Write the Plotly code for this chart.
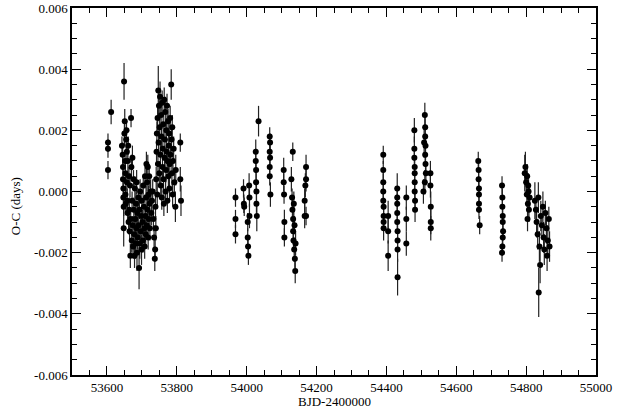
import plotly.graph_objects as go

# Season 1
bjd_1 = [53603, 53603, 53603, 53612, 53649, 53643, 53645, 53646, 53646, 53647, 53647, 53648, 53648,
         53650, 53651, 53652, 53653, 53653, 53654, 53655, 53656, 53657, 53657, 53658, 53659, 53660,
         53661, 53662, 53663, 53664, 53665, 53666, 53667, 53668, 53669, 53670, 53671, 53672, 53673,
         53674, 53675, 53676, 53677, 53678, 53679, 53680, 53681, 53682, 53683, 53684, 53685, 53686,
         53687, 53688, 53690, 53691, 53692, 53693, 53694, 53695, 53697, 53698, 53699, 53700, 53702,
         53703, 53704, 53706, 53707, 53708, 53709, 53710, 53711, 53712, 53713, 53714, 53715, 53716,
         53717, 53718, 53719, 53720, 53721, 53722, 53723, 53725, 53727, 53729, 53731, 53733, 53735,
         53737, 53738, 53739, 53740, 53741, 53742, 53743, 53744, 53745, 53746, 53747, 53748, 53749,
         53750, 53751, 53752, 53753, 53754, 53755, 53756, 53757, 53758, 53759, 53760, 53761, 53762,
         53763, 53764, 53765, 53766, 53767, 53768, 53769, 53770, 53771, 53772, 53773, 53774, 53775,
         53776, 53777, 53778, 53779, 53780, 53781, 53782, 53784, 53785, 53786, 53787, 53788, 53789,
         53791, 53793, 53796, 53797, 53810, 53810, 53812]
oc_1 = [0.0016, 0.0014, 0.0007, 0.0026, 0.0036, 0.0015, 0.0012, 0.0008, 0.0004, 0.0001, -0.0002, -0.0005, -0.0012,
        0.0019, 0.0023, 0.0010, 0.0006, -0.0001, -0.0004, 0.0017, 0.0020, 0.0013, 0.0003, -0.0003, -0.0007, 0.0010,
        0.0015, -0.0010, 0.0005, -0.0006, -0.0013, 0.0002, -0.0021, -0.0009, 0.0024, 0.0008, -0.0016, -0.0003, 0.0011,
        -0.0011, -0.0018, 0.0004, -0.0006, -0.0014, -0.0021, 0.0001, -0.0009, -0.0017, -0.0004, -0.0012, 0.0003, -0.0020,
        -0.0007, -0.0015, -0.0002, -0.0011, -0.0025, -0.0006, -0.0017, 0.0000, -0.0013, -0.0008, -0.0019, -0.0003, -0.0010,
        -0.0016, 0.0002, -0.0005, -0.0012, -0.0018, 0.0005, -0.0008, -0.0014, -0.0002, 0.0009, -0.0011, 0.0003, -0.0006,
        0.0008, -0.0015, -0.0001, -0.0009, 0.0005, -0.0004, -0.0012, 0.0000, -0.0007, -0.0003, 0.0000, -0.0009, -0.0015,
        -0.0022, -0.0019, -0.0005, -0.0012, 0.0004, 0.0013, 0.0019, -0.0001, 0.0024, 0.0009, 0.0033, 0.0016, 0.0028,
        0.0006, 0.0021, 0.0031, 0.0012, 0.0002, 0.0025, 0.0018, -0.0002, 0.0029, 0.0008, 0.0014, 0.0022, 0.0004,
        -0.0004, 0.0030, 0.0011, 0.0017, 0.0026, 0.0000, 0.0007, 0.0020, 0.0013, 0.0028, -0.0003, 0.0010, 0.0023,
        0.0005, 0.0015, 0.0019, 0.0001, 0.0009, 0.0024, 0.0012, 0.0035, 0.0017, 0.0006, 0.0021, -0.0001, 0.0010,
        0.0014, 0.0003, -0.0005, 0.0007, 0.0016, 0.0004, -0.0003]
err_1 = [0.0003, 0.0003, 0.0003, 0.0004, 0.0006, 0.0003, 0.0004, 0.0003, 0.0004, 0.0003, 0.0004, 0.0003, 0.0006,
         0.0004, 0.0004, 0.0003, 0.0004, 0.0003, 0.0003, 0.0004, 0.0003, 0.0004, 0.0003, 0.0004, 0.0003, 0.0004,
         0.0003, 0.0004, 0.0003, 0.0004, 0.0003, 0.0004, 0.0004, 0.0003, 0.0003, 0.0004, 0.0004, 0.0003, 0.0004,
         0.0003, 0.0004, 0.0003, 0.0004, 0.0005, 0.0004, 0.0004, 0.0003, 0.0005, 0.0004, 0.0004, 0.0004, 0.0006,
         0.0004, 0.0004, 0.0003, 0.0004, 0.0007, 0.0003, 0.0005, 0.0004, 0.0004, 0.0003, 0.0005, 0.0004, 0.0004,
         0.0004, 0.0003, 0.0004, 0.0004, 0.0004, 0.0004, 0.0003, 0.0004, 0.0004, 0.0004, 0.0004, 0.0003, 0.0004,
         0.0004, 0.0004, 0.0003, 0.0004, 0.0004, 0.0004, 0.0004, 0.0004, 0.0004, 0.0004, 0.0004, 0.0004, 0.0004,
         0.0004, 0.0004, 0.0004, 0.0004, 0.0004, 0.0004, 0.0004, 0.0004, 0.0004, 0.0004, 0.0008, 0.0004, 0.0005,
         0.0004, 0.0004, 0.0005, 0.0004, 0.0004, 0.0004, 0.0004, 0.0004, 0.0004, 0.0004, 0.0004, 0.0004, 0.0004,
         0.0004, 0.0004, 0.0004, 0.0004, 0.0005, 0.0004, 0.0004, 0.0004, 0.0004, 0.0004, 0.0004, 0.0004, 0.0004,
         0.0004, 0.0004, 0.0004, 0.0004, 0.0004, 0.0004, 0.0004, 0.0005, 0.0004, 0.0004, 0.0004, 0.0004, 0.0004,
         0.0004, 0.0004, 0.0005, 0.0005, 0.0003, 0.0004, 0.0005]

# Season 2
bjd_2 = [53968, 53968, 53968, 53991, 53992, 53993, 54003, 54003, 54004, 54005, 54007, 54008, 54008,
         54026, 54026, 54027, 54027, 54028, 54028, 54029, 54034, 54066, 54067, 54066, 54067, 54066,
         54066, 54068, 54106, 54106, 54107, 54108, 54108, 54128, 54130, 54131, 54132, 54133, 54133,
         54134, 54135, 54136, 54137, 54138, 54139, 54140, 54170, 54170, 54168, 54166, 54166, 54170]
oc_2 = [-0.0002, -0.0009, -0.0014, 0.0001, -0.0004, -0.0005, -0.0010, -0.0015, -0.0018, -0.0021, 0.0002, -0.0002, -0.0008,
        0.0013, 0.0010, 0.0007, 0.0003, 0.0000, -0.0004, -0.0008, 0.0023, 0.0018, 0.0016, 0.0013, 0.0011, 0.0008,
        0.0005, -0.0001, 0.0007, 0.0003, -0.0001, -0.0010, -0.0015, 0.0004, -0.0002, -0.0006, 0.0013, -0.0009, -0.0013,
        -0.0016, -0.0004, -0.0019, -0.0011, -0.0022, -0.0026, -0.0017, 0.0008, 0.0004, 0.0002, -0.0003, -0.0008, -0.0008]
err_2 = [0.0003, 0.0003, 0.0003, 0.0003, 0.0003, 0.0003, 0.0003, 0.0003, 0.0003, 0.0003, 0.0004, 0.0003, 0.0004,
         0.0004, 0.0004, 0.0003, 0.0003, 0.0004, 0.0003, 0.0005, 0.0005, 0.0003, 0.0003, 0.0003, 0.0004, 0.0004,
         0.0003, 0.0004, 0.0004, 0.0003, 0.0003, 0.0004, 0.0003, 0.0004, 0.0003, 0.0004, 0.0003, 0.0004, 0.0004,
         0.0003, 0.0004, 0.0004, 0.0003, 0.0003, 0.0004, 0.0004, 0.0004, 0.0004, 0.0004, 0.0004, 0.0004, 0.0003]

# Season 3
bjd_3 = [54391, 54391, 54391, 54391, 54391, 54392, 54392, 54392, 54392, 54405, 54405, 54405,
         54431, 54431, 54431, 54431, 54431, 54432, 54432, 54432, 54432, 54457, 54457, 54457,
         54480, 54480, 54480, 54481, 54481, 54481, 54481, 54482, 54482,
         54508, 54510, 54511, 54511, 54512, 54511, 54512, 54513, 54510, 54506,
         54526, 54526, 54527, 54527, 54527]
oc_3 = [0.0012, 0.0007, 0.0003, 0.0000, -0.0003, -0.0005, -0.0008, -0.0010, -0.0012, -0.0008, -0.0013, -0.0021,
        0.0001, -0.0002, -0.0004, -0.0007, -0.0010, -0.0013, -0.0016, -0.0019, -0.0028, -0.0002, -0.0009, -0.0017,
        0.0020, 0.0014, 0.0011, 0.0008, 0.0006, 0.0003, 0.0000, -0.0003, -0.0006,
        0.0016, 0.0025, 0.0021, 0.0018, 0.0015, 0.0012, 0.0009, 0.0006, 0.0003, 0.0000,
        0.0006, 0.0002, -0.0005, -0.0010, -0.0012]
err_3 = [0.0003, 0.0003, 0.0003, 0.0003, 0.0003, 0.0003, 0.0003, 0.0003, 0.0004, 0.0005, 0.0004, 0.0005,
         0.0005, 0.0003, 0.0003, 0.0003, 0.0003, 0.0003, 0.0004, 0.0004, 0.0006, 0.0004, 0.0004, 0.0004,
         0.0004, 0.0004, 0.0003, 0.0003, 0.0003, 0.0003, 0.0003, 0.0003, 0.0004,
         0.0005, 0.0004, 0.0004, 0.0004, 0.0004, 0.0004, 0.0004, 0.0004, 0.0004, 0.0004,
         0.0004, 0.0004, 0.0005, 0.0004, 0.0004]

# Season 4
bjd_4 = [54663, 54664, 54664, 54665, 54665, 54665, 54665, 54667,
         54731, 54732, 54732, 54733, 54733, 54734, 54733, 54732, 54731,
         54796, 54798, 54800, 54802, 54803, 54805, 54806, 54808, 54810, 54804, 54807,
         54825, 54828, 54830, 54833, 54835, 54836, 54838, 54840, 54842, 54845, 54848,
         54850, 54852, 54855, 54858, 54860, 54862, 54865, 54867]
oc_4 = [0.0010, 0.0007, 0.0004, 0.0001, -0.0001, -0.0004, -0.0006, -0.0011,
        0.0002, -0.0002, -0.0005, -0.0008, -0.0010, -0.0013, -0.0015, -0.0018, -0.0020,
        0.0006, 0.0008, 0.0003, -0.0001, 0.0005, -0.0004, 0.0002, -0.0006, -0.0002, -0.0009, 0.0000,
        -0.0003, -0.0006, -0.0010, -0.0014, -0.0002, -0.0033, -0.0018, -0.0024, -0.0008, -0.0011, -0.0005,
        -0.0015, -0.0019, -0.0007, -0.0012, -0.0021, -0.0016, -0.0009, -0.0018]
err_4 = [0.0003, 0.0003, 0.0003, 0.0003, 0.0003, 0.0003, 0.0003, 0.0003,
         0.0003, 0.0003, 0.0003, 0.0003, 0.0003, 0.0003, 0.0003, 0.0003, 0.0003,
         0.0006, 0.0005, 0.0004, 0.0004, 0.0004, 0.0004, 0.0004, 0.0004, 0.0004, 0.0004, 0.0004,
         0.0006, 0.0004, 0.0005, 0.0005, 0.0005, 0.0008, 0.0005, 0.0006, 0.0005, 0.0004, 0.0005,
         0.0005, 0.0005, 0.0004, 0.0005, 0.0005, 0.0005, 0.0004, 0.0005]

x_ticks = [53600, 53800, 54000, 54200, 54400, 54600, 54800, 55000]
x_tick_text = ["53600", "53800", "54000", "54200", "54400", "54600", "54800", "55000"]
y_ticks = [-0.006, -0.004, -0.002, 0.000, 0.002, 0.004, 0.006]
y_tick_text = ["-0.006", "-0.004", "-0.002", "0.000", "0.002", "0.004", "0.006"]
x_title = "BJD-2400000"
y_title = "O-C (days)"

bjd = bjd_1 + bjd_2 + bjd_3 + bjd_4
oc = oc_1 + oc_2 + oc_3 + oc_4
err = err_1 + err_2 + err_3 + err_4

fig = go.Figure(go.Scatter(
    x=bjd, y=oc, mode="markers",
    marker=dict(color="black", size=6),
    error_y=dict(type="data", array=err, color="#222222", thickness=1.2, width=0),
))

font = dict(family="Liberation Serif, Times New Roman, serif", size=13, color="black")
axis_common = dict(
    showgrid=False, zeroline=False, showline=True, linecolor="black", linewidth=1.5,
    mirror="allticks", ticks="inside", ticklen=9, tickwidth=1, tickcolor="black",
    tickfont=font, automargin=False,
)
fig.update_xaxes(
    range=[53500, 55000], tickvals=x_ticks, ticktext=x_tick_text,
    minor=dict(dtick=50, tick0=53500, ticks="inside", ticklen=5, tickcolor="black", tickwidth=1),
    **axis_common,
)
fig.update_yaxes(
    range=[-0.006, 0.006], tickvals=y_ticks, ticktext=y_tick_text,
    minor=dict(dtick=0.0005, tick0=0, ticks="inside", ticklen=5, tickcolor="black", tickwidth=1),
    **axis_common,
)
fig.add_annotation(text=x_title, xref="paper", yref="paper", x=0.5, y=0,
                   xanchor="center", yanchor="top", yshift=-17, showarrow=False, font=font)
fig.add_annotation(text=y_title, xref="paper", yref="paper", x=0, y=0.46,
                   xanchor="center", yanchor="middle", xshift=-57, textangle=-90,
                   showarrow=False, font=font)
fig.update_layout(
    width=629, height=412,
    margin=dict(l=72, r=33, t=8, b=37),
    plot_bgcolor="white", paper_bgcolor="white",
    showlegend=False, font=font,
)
fig.write_html("out.html", config={"displayModeBar": False},
               post_script="document.body.style.margin='0';")
